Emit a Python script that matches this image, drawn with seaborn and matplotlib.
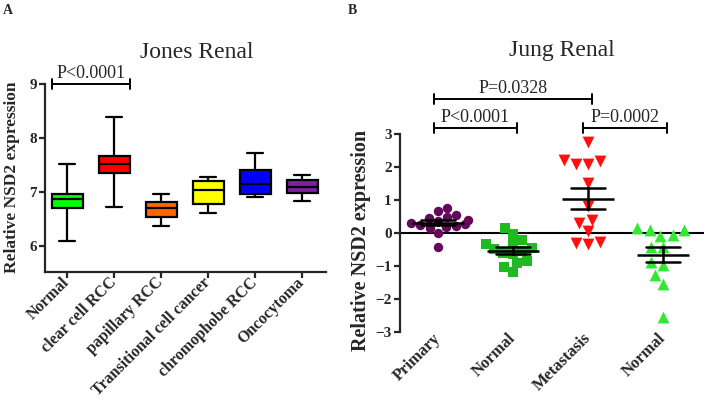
import numpy as np
import pandas as pd
import matplotlib.pyplot as plt
import seaborn as sns

sns.set_style("ticks")
plt.rcParams["font.family"] = ["Liberation Serif", "DejaVu Serif"]

# Panel A: Jones Renal, box summaries (min, q1, median, q3, max)
jones_types = ["Normal", "clear cell RCC", "papillary RCC",
               "Transitional cell cancer", "chromophobe RCC", "Oncocytoma"]
jones_min = [6.09, 6.72, 6.38, 6.62, 6.90, 6.83]
jones_q1 = [6.70, 7.35, 6.54, 6.77, 6.97, 6.98]
jones_med = [6.88, 7.51, 6.70, 7.03, 7.15, 7.09]
jones_q3 = [6.97, 7.66, 6.82, 7.20, 7.41, 7.22]
jones_max = [7.51, 8.39, 6.97, 7.27, 7.73, 7.31]
jones_colors = ["#00FF00", "#FF0000", "#FF6600", "#FFFF00", "#0000FF", "#7F1FA6"]

# Panel B: Jung Renal, individual samples
jung_keys = ["Primary", "Normal_p", "Metastasis", "Normal_m"]
jung_labels = ["Primary", "Normal", "Metastasis", "Normal"]
primary = [0.77, 0.65, 0.48, 0.55, 0.45, 0.38, 0.35, 0.30, 0.28, 0.25,
           0.22, 0.18, 0.15, 0.00, -0.42]
normal_p = [0.14, -0.03, -0.21, -0.34, -0.34, -0.45, -0.50, -0.55, -0.60,
            -0.65, -0.92, -0.85, -1.04, -1.18]
metastasis = [2.75, 2.19, 2.08, 2.21, 2.09, 1.50, 0.82, 0.39, 0.29, 0.05,
              -0.26, -0.33, -0.30]
normal_m = [0.16, 0.09, 0.09, -0.08, -0.06, -0.43, -0.43, -0.97, -0.89,
            -1.27, -1.55, -2.54]
jung_colors = ["#650A5A", "#1FBA1F", "#FF1010", "#33E833"]
jung_markers = ["o", "s", "v", "^"]
jung_sizes = [6.8, 6.8, 8.5, 8.5]

# build long tables
rows = []
for t, a, b, c, d, e in zip(jones_types, jones_min, jones_q1, jones_med, jones_q3, jones_max):
    for v in (a, b, c, d, e):
        rows.append((t, v))
jones = pd.DataFrame(rows, columns=["type", "value"])

jung = pd.concat([
    pd.DataFrame({"group": k, "value": v})
    for k, v in zip(jung_keys, [primary, normal_p, metastasis, normal_m])
], ignore_index=True)

fig = plt.figure(figsize=(7.08, 4.08), dpi=100)
W, H = 708, 408
axA = fig.add_axes([45 / W, (H - 272) / H, 281 / W, 188 / H])
axB = fig.add_axes([400 / W, (H - 332) / H, 304 / W, 242 / H])

# ---- Panel A
sns.boxplot(data=jones, x="type", y="value", hue="type", order=jones_types,
            hue_order=jones_types, palette=jones_colors, legend=False,
            whis=(0, 100), width=0.66, linewidth=1.6, linecolor="black",
            saturation=1, ax=axA)
axA.set_ylim(5.52, 9.0)
axA.set_xlim(-0.47, 5.51)
axA.set_yticks([6, 7, 8, 9])
axA.set_xlabel("")
axA.set_ylabel("Relative NSD2 expression", fontsize=12.5, fontweight="bold")
axA.yaxis.set_label_coords(-0.088, 0.505)
for s in ["top", "right"]:
    axA.spines[s].set_visible(False)
for s in ["left", "bottom"]:
    axA.spines[s].set_linewidth(1.6)
axA.tick_params(width=1.6, length=4, labelsize=11, pad=2)
for lab in axA.get_yticklabels():
    lab.set_fontweight("bold")
axA.set_xticks(range(len(jones_types)))
axA.set_xticklabels(jones_types, rotation=45, ha="right", va="center",
                    rotation_mode="anchor", fontweight="bold", fontsize=11.5)
axA.text(0.54, 1.17, "Jones Renal", transform=axA.transAxes, ha="center",
         va="center", fontsize=17)

# significance bracket A
x0, x1, yb = 0 - 0.33, 1 + 0.33, 9.0
axA.plot([x0, x1], [yb, yb], color="black", lw=1.4, clip_on=False)
for xx in (x0, x1):
    axA.plot([xx, xx], [yb - 0.09, yb + 0.09], color="black", lw=1.4, clip_on=False)
axA.text((x0 + x1) / 2, yb + 0.03, "P<0.0001", ha="center", va="bottom", fontsize=13)

# ---- Panel B
axB.axhline(0, color="black", lw=1.5, zorder=1)
for k, col, mk, sz in zip(jung_keys, jung_colors, jung_markers, jung_sizes):
    sns.swarmplot(data=jung[jung.group == k], x="group", y="value", order=jung_keys,
                  color=col, marker=mk, size=sz, linewidth=0, ax=axB, zorder=2)
sns.pointplot(data=jung, x="group", y="value", order=jung_keys, errorbar="se",
              capsize=0.45, color="black", linestyle="none", marker="_",
              markersize=38, markeredgewidth=1.8, err_kws={"linewidth": 1.8},
              ax=axB, zorder=4)
axB.set_ylim(-3, 4.33)
axB.set_xlim(-0.507, 3.547)
axB.set_yticks(np.arange(-3, 4))
axB.spines["left"].set_bounds(-3, 3)
for s in ["top", "right", "bottom"]:
    axB.spines[s].set_visible(False)
axB.spines["left"].set_linewidth(1.6)
axB.tick_params(axis="y", width=1.6, length=4, labelsize=11, pad=2)
axB.tick_params(axis="x", length=0, pad=3)
for lab in axB.get_yticklabels():
    lab.set_fontweight("bold")
axB.set_xticks(range(len(jung_keys)))
axB.set_xticklabels(jung_labels, rotation=45, ha="right", va="center",
                    rotation_mode="anchor", fontweight="bold", fontsize=12)
axB.set_xlabel("")
axB.set_ylabel("Relative NSD2 expression", fontsize=14.5, fontweight="bold")
axB.yaxis.set_label_coords(-0.095, 0.38)
axB.text(0.533, 1.165, "Jung Renal", transform=axB.transAxes, ha="center",
         va="center", fontsize=17)

# significance brackets B
brackets = [(0, 1, 3.18, "P<0.0001"), (0, 2, 4.06, "P=0.0328"), (2, 3, 3.18, "P=0.0002")]
for a, b, yb, txt in brackets:
    xa, xb = a - 0.06, b + 0.05
    axB.plot([xa, xb], [yb, yb], color="black", lw=1.4, clip_on=False)
    for xx in (xa, xb):
        axB.plot([xx, xx], [yb - 0.15, yb + 0.15], color="black", lw=1.4, clip_on=False)
    axB.text((xa + xb) / 2, yb + 0.05, txt, ha="center", va="bottom", fontsize=13)

fig.text(8 / W, 1 - 10 / H, "A", ha="center", va="center", fontsize=10, fontweight="bold")
fig.text(352 / W, 1 - 10 / H, "B", ha="center", va="center", fontsize=10, fontweight="bold")

plt.savefig("out.png", dpi=100)
